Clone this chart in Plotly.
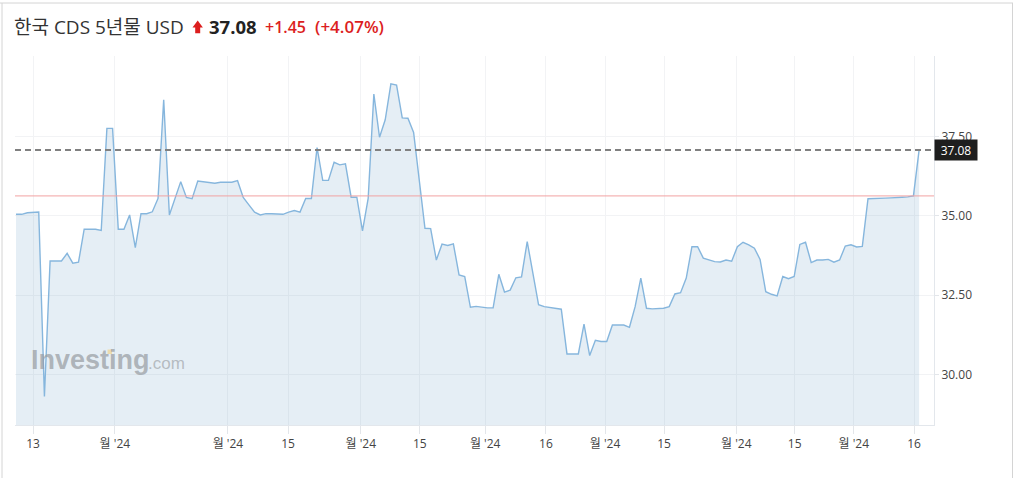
import plotly.graph_objects as go

# ---- data ----
values = [35.05, 35.05, 35.10, 35.11, 35.12, 29.31, 33.58, 33.58, 33.58, 33.82,
          33.51, 33.54, 34.58, 34.58, 34.58, 34.54, 37.76, 37.76, 34.58, 34.58,
          35.03, 34.00, 35.07, 35.07, 35.13, 35.55, 38.66, 35.03, 35.58, 36.08,
          35.58, 35.54, 36.10, 36.08, 36.06, 36.03, 36.06, 36.06, 36.06, 36.11,
          35.58, 35.35, 35.12, 35.03, 35.07, 35.07, 35.07, 35.05, 35.12, 35.17,
          35.12, 35.55, 35.55, 37.15, 36.12, 36.12, 36.69, 36.61, 36.64, 35.59,
          35.59, 34.53, 35.55, 38.84, 37.48, 38.03, 39.16, 39.12, 38.09, 38.08,
          37.63, 36.10, 34.61, 34.60, 33.61, 34.11, 34.07, 34.12, 33.14, 33.09,
          32.12, 32.15, 32.12, 32.10, 32.10, 33.16, 32.60, 32.66, 33.05, 33.08,
          34.19, 33.19, 32.20, 32.14, 32.11, 32.07, 32.06, 30.65, 30.65, 30.65,
          31.59, 30.60, 31.08, 31.04, 31.04, 31.56, 31.56, 31.56, 31.49, 32.14,
          33.04, 32.09, 32.07, 32.07, 32.09, 32.14, 32.54, 32.58, 33.04, 34.03,
          34.03, 33.67, 33.61, 33.56, 33.55, 33.61, 33.57, 34.03, 34.17, 34.09,
          33.98, 33.63, 32.61, 32.53, 32.48, 33.09, 33.02, 33.09, 34.10, 34.17,
          33.53, 33.61, 33.61, 33.63, 33.54, 33.61, 34.05, 34.09, 34.02, 34.04,
          35.54, 35.54, 35.56, 35.56, 35.57, 35.57, 35.59, 35.60, 35.63, 37.08]
x_index = list(range(len(values)))

x_tick_pos = [3.0, 17.4, 37.3, 47.9, 60.7, 71.1, 82.6, 93.3, 103.7, 114.1, 126.8, 137.1, 147.5, 158.1]
x_tick_text = ["13", "월 '24", "월 '24", "15", "월 '24", "15", "월 '24", "16",
               "월 '24", "15", "월 '24", "15", "월 '24", "16"]
y_tick_vals = [30.0, 32.5, 35.0, 37.5]
y_tick_text = ["30.00", "32.50", "35.00", "37.50"]

last_price = 37.08
prev_close = 35.63
title_name = "한국 CDS 5년물 USD"
title_price = "37.08"
title_change = "+1.45"
title_pct = "(+4.07%)"

# ---- layout helpers (pixel -> paper) ----
W, H = 1023, 478
L, R, T, B = 15, 934, 56, 425


def px(x):
    return (x - L) / (R - L)


def py(y):
    return (B - y) / (B - T)


FONT = "Open Sans, Noto Sans CJK KR, sans-serif"

fig = go.Figure()
fig.add_trace(go.Scatter(
    x=x_index, y=values, mode="lines",
    line=dict(color="#86b6dd", width=1.4),
    fill="tozeroy", fillcolor="rgba(110,160,200,0.18)",
    hoverinfo="skip", showlegend=False,
))

shapes = [
    # previous close (red)
    dict(type="line", xref="paper", yref="y", x0=0, x1=1, y0=prev_close, y1=prev_close,
         line=dict(color="#f2a3a3", width=1)),
    # last price (dashed)
    dict(type="line", xref="paper", yref="y", x0=0, x1=1, y0=last_price, y1=last_price,
         line=dict(color="#808080", width=2, dash="6px,4px")),
    # card border
    dict(type="line", xref="paper", yref="paper", x0=px(0), x1=px(1013), y0=py(3), y1=py(3),
         line=dict(color="#d4d4d4", width=1)),
    dict(type="line", xref="paper", yref="paper", x0=px(2), x1=px(2), y0=py(3), y1=py(478),
         line=dict(color="#d4d4d4", width=1)),
    dict(type="line", xref="paper", yref="paper", x0=px(1012.5), x1=px(1012.5), y0=py(3), y1=py(478),
         line=dict(color="#d4d4d4", width=1)),
    # red up arrow in title
    dict(type="path", xref="paper", yref="paper",
         path=(f"M {px(192.5)} {py(27.5)} L {px(197.7)} {py(20.5)} L {px(202.9)} {py(27.5)} "
               f"L {px(200.2)} {py(27.5)} L {px(200.2)} {py(33.2)} L {px(195.2)} {py(33.2)} "
               f"L {px(195.2)} {py(27.5)} Z"),
         fillcolor="#dc1e1e", line=dict(width=0)),
    # Investing logo dot
    dict(type="rect", xref="paper", yref="paper", x0=px(107.5), x1=px(112), y0=py(349.5), y1=py(354),
         fillcolor="#ecdcae", line=dict(width=0)),
]

annotations = [
    dict(xref="paper", yref="paper", x=px(12), y=py(27), xanchor="left", yanchor="middle",
         text=title_name, showarrow=False, font=dict(family=FONT, size=19, color="#333333")),
    dict(xref="paper", yref="paper", x=px(207), y=py(27), xanchor="left", yanchor="middle",
         text=f"<b>{title_price}</b>", showarrow=False, font=dict(family=FONT, size=18.5, color="#222222")),
    dict(xref="paper", yref="paper", x=px(263), y=py(27), xanchor="left", yanchor="middle",
         text=title_change, showarrow=False,
         font=dict(family=FONT, size=16, color="#dc1e1e", weight=600)),
    dict(xref="paper", yref="paper", x=px(313), y=py(27), xanchor="left", yanchor="middle",
         text=title_pct, showarrow=False,
         font=dict(family=FONT, size=17, color="#dc1e1e", weight=600)),
    # price tag
    dict(xref="paper", yref="y", x=1, y=last_price, xanchor="left", yanchor="middle",
         text=f"{last_price:.2f}", showarrow=False, bgcolor="#1e1e1e", borderpad=3,
         width=36, height=14, align="center",
         font=dict(family=FONT, size=12, color="#ffffff")),
    # watermark
    dict(xref="paper", yref="paper", x=px(29), y=py(371), xanchor="left", yanchor="bottom",
         yshift=-6, text="<b>Investing</b>", showarrow=False,
         font=dict(family="Liberation Sans, Arial, sans-serif", size=27, color="rgba(150,155,160,0.7)")),
    dict(xref="paper", yref="paper", x=px(146), y=py(371), xanchor="left", yanchor="bottom",
         yshift=-4, text=".com", showarrow=False,
         font=dict(family="Liberation Sans, Arial, sans-serif", size=17, color="rgba(160,165,170,0.7)")),
]

fig.update_layout(
    width=W, height=H,
    margin=dict(l=L, r=W - R, t=T, b=H - B, pad=0),
    paper_bgcolor="white", plot_bgcolor="white",
    shapes=shapes, annotations=annotations,
    showlegend=False,
    xaxis=dict(
        range=[-0.18, (R - 16) / 5.68],
        tickmode="array", tickvals=x_tick_pos, ticktext=x_tick_text,
        showgrid=True, gridcolor="#f2f3f5", gridwidth=1,
        ticks="outside", ticklen=8, tickcolor="#e3e6ea",
        showline=True, linecolor="#e3e7ec", linewidth=1,
        tickfont=dict(family=FONT, size=12, color="#444444"),
        zeroline=False, fixedrange=True,
    ),
    yaxis=dict(
        side="right",
        range=[28.41, 40.04],
        tickmode="array", tickvals=y_tick_vals, ticktext=y_tick_text,
        showgrid=True, gridcolor="#f2f3f5", gridwidth=1,
        ticks="outside", ticklen=4, tickcolor="#e3e6ea",
        showline=True, linecolor="#e3e7ec", linewidth=1,
        tickfont=dict(family=FONT, size=12, color="#444444"),
        zeroline=False, fixedrange=True,
    ),
)

fig.write_html(
    "out.html",
    config={"displayModeBar": False},
    post_script="document.body.style.margin='0';document.body.style.padding='0';",
)
